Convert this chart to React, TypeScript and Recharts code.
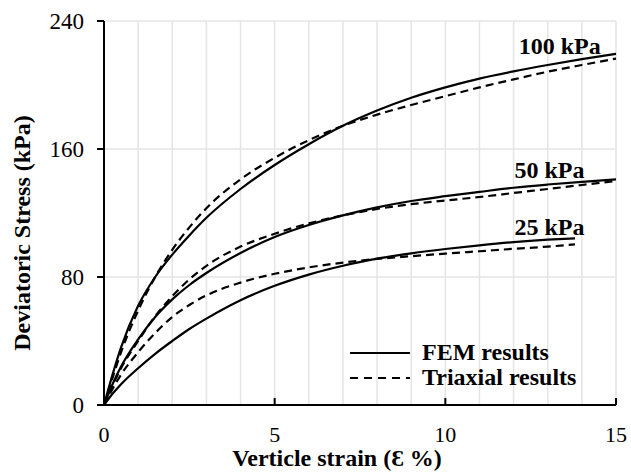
import { CartesianGrid, Legend, Line, LineChart, ReferenceDot, XAxis, YAxis } from "recharts"

const strain = [0, 0.25, 0.5, 1, 1.5, 2, 2.5, 3, 4, 5, 6, 7, 8, 9, 10, 11, 12, 13, 14, 15]
const strain25 = [0, 0.25, 0.5, 1, 1.5, 2, 2.5, 3, 4, 5, 6, 7, 8, 9, 10, 11, 12, 13, 13.8]

const fem100 = [0, 19, 36, 62, 80, 94, 106, 117, 135, 150, 163, 174.5, 184, 192, 198.5, 204, 208.5, 212.5, 216.2, 219.5]
const tri100 = [0, 17, 33, 59, 80, 97, 111, 123, 141, 154.5, 165.5, 174.5, 181.5, 187.5, 193, 198.5, 203.5, 208.3, 212.5, 216.5]
const fem50 = [0, 13, 24, 41, 55, 66, 75, 82.5, 95, 105, 112.5, 118.5, 123.5, 127.5, 130.5, 133.2, 135.8, 137.8, 139.5, 141]
const tri50 = [0, 12, 23, 40, 55.5, 68, 78.5, 87, 99, 107, 113.5, 118.5, 122.5, 125.5, 127.8, 130, 132.5, 135, 137.5, 140]
const fem25 = [0, 7, 13, 23, 32, 40, 47.5, 54, 65.5, 74.5, 81.5, 87, 91.5, 94.8, 97.5, 99.8, 101.8, 103.3, 104.2]
const tri25 = [0, 10, 19, 33, 45, 55, 62.5, 68.5, 76.5, 82, 86, 89, 91.3, 93, 94.6, 96.1, 97.6, 99, 100.4]

const xTicks = [0, 1, 2, 3, 4, 5, 6, 7, 8, 9, 10, 11, 12, 13, 14, 15]
const yTicks = [0, 80, 160, 240]

const pressureLabels = ["100 kPa", "50 kPa", "25 kPa"]
const labelX = [13.35, 13.05, 13.05]
const labelY = [225, 147, 111.5]

const toPoints = (xs: number[], ys: number[]) => xs.map((x, i) => ({ x, y: ys[i] }))

const series = [
    { key: "fem100", data: toPoints(strain, fem100), dashed: false },
    { key: "tri100", data: toPoints(strain, tri100), dashed: true },
    { key: "fem50", data: toPoints(strain, fem50), dashed: false },
    { key: "tri50", data: toPoints(strain, tri50), dashed: true },
    { key: "fem25", data: toPoints(strain25, fem25), dashed: false },
    { key: "tri25", data: toPoints(strain25, tri25), dashed: true },
]

const font = "'Liberation Serif', 'Times New Roman', serif"

function XTick({ x, y, payload }: any) {
    const v = payload.value
    if (v % 5 !== 0) return <g />
    return (
        <g>
            <line x1={x} x2={x} y1={y} y2={y - 7} stroke="#000" strokeWidth={2} />
            <text x={x} y={y + 37} textAnchor="middle" fill="#000" fontSize={22} fontFamily={font}>
                {v}
            </text>
        </g>
    )
}

function LegendBox() {
    const row = (dashed: boolean, text: string) => (
        <div style={{ display: "flex", alignItems: "center", height: 25 }}>
            <svg width={60} height={6} style={{ marginRight: 12 }}>
                <line x1={0} x2={60} y1={3} y2={3} stroke="#000" strokeWidth={2.2} strokeDasharray={dashed ? "8 6" : undefined} />
            </svg>
            <span style={{ fontFamily: font, fontWeight: "bold", fontSize: 24, color: "#000", lineHeight: "25px" }}>{text}</span>
        </div>
    )
    return (
        <div>
            {row(false, "FEM results")}
            {row(true, "Triaxial results")}
        </div>
    )
}

export default function App() {
    return (
        <div>
            <style>{`body { margin: 0; overflow: hidden; }`}</style>
            <LineChart width={631} height={476} margin={{ top: 21, right: 15, left: 0, bottom: 0 }}>
                <CartesianGrid stroke="#e4e4e4" strokeWidth={1.5} />
                <XAxis
                    dataKey="x"
                    type="number"
                    domain={[0, 15]}
                    ticks={xTicks}
                    interval={0}
                    height={71}
                    tickSize={0}
                    tickMargin={0}
                    tick={<XTick />}
                    axisLine={{ stroke: "#000", strokeWidth: 2 }}
                    label={{
                        value: "Verticle strain (Ɛ %)",
                        content: ({ viewBox }: any) => (
                            <text
                                x={viewBox.x + viewBox.width / 2 - 23}
                                y={viewBox.y + 61}
                                textAnchor="middle"
                                fill="#000"
                                fontSize={24}
                                fontWeight="bold"
                                fontFamily={font}
                            >
                                Verticle strain (Ɛ %)
                            </text>
                        ),
                    }}
                />
                <YAxis
                    type="number"
                    domain={[0, 240]}
                    ticks={yTicks}
                    width={104}
                    tickSize={7}
                    tickMargin={13}
                    tickLine={{ stroke: "#000", strokeWidth: 2 }}
                    axisLine={{ stroke: "#000", strokeWidth: 2 }}
                    tick={{ fill: "#000", fontSize: 23, fontFamily: font }}
                    label={{
                        value: "Deviatoric Stress (kPa)",
                        content: ({ viewBox }: any) => (
                            <text
                                transform={`translate(${viewBox.x + 30}, ${viewBox.y + viewBox.height / 2 + 20}) rotate(-90)`}
                                textAnchor="middle"
                                fill="#000"
                                fontSize={24}
                                fontWeight="bold"
                                fontFamily={font}
                            >
                                Deviatoric Stress (kPa)
                            </text>
                        ),
                    }}
                />
                {series.map((s) => (
                    <Line
                        key={s.key}
                        data={s.data}
                        dataKey="y"
                        type="monotone"
                        stroke="#000"
                        strokeWidth={2.2}
                        strokeDasharray={s.dashed ? "8 5" : undefined}
                        dot={false}
                        activeDot={false}
                        isAnimationActive={false}
                    />
                ))}
                {pressureLabels.map((t, i) => (
                    <ReferenceDot
                        key={t}
                        x={labelX[i]}
                        y={labelY[i]}
                        r={0}
                        fill="none"
                        stroke="none"
                        ifOverflow="visible"
                        label={{ value: t, position: "center", fill: "#000", fontSize: 24, fontWeight: "bold", fontFamily: font }}
                    />
                ))}
                <Legend
                    layout="vertical"
                    align="center"
                    verticalAlign="middle"
                    content={<LegendBox />}
                    wrapperStyle={{ left: 350, top: 340, width: "auto", bottom: "auto" }}
                />
            </LineChart>
        </div>
    )
}
